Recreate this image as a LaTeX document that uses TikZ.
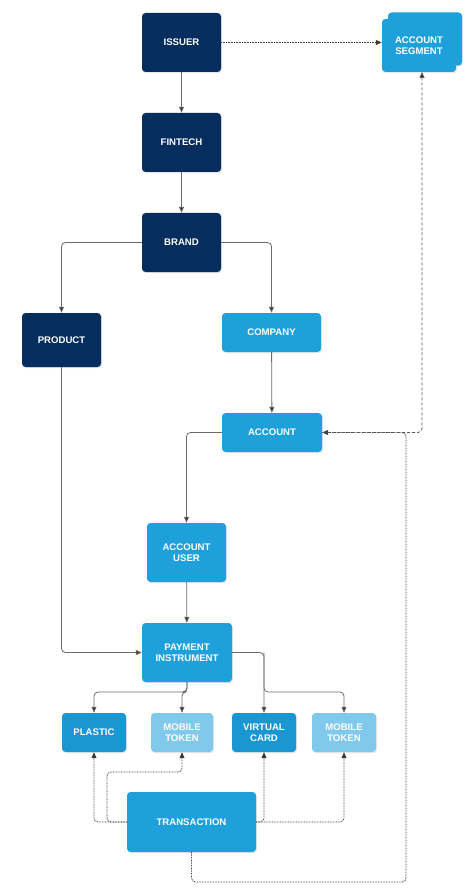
\documentclass[tikz,border=0pt]{standalone}
\usepackage{fontspec}
\setmainfont{Liberation Sans}
\usetikzlibrary{arrows.meta,shadows}
\definecolor{navy}{HTML}{052D5E}
\definecolor{cblue}{HTML}{1EA0DB}
\definecolor{dblue}{HTML}{1A96D3}
\definecolor{lblue}{HTML}{80C9EC}
\definecolor{lgray}{HTML}{6B6B6B}
\begin{document}
\begin{tikzpicture}[x=1pt,y=-1pt,
  box/.style={rounded corners=3.5pt, text=white, font=\bfseries\fontsize{9.6}{11.5}\selectfont, align=center, inner sep=0pt,
    drop shadow={opacity=0.18, shadow xshift=1pt, shadow yshift=-1.2pt}},
  navybox/.style={box, fill=navy},
  bluebox/.style={box, fill=cblue},
  dbluebox/.style={box, fill=dblue},
  lbluebox/.style={box, fill=lblue},
  conn/.style={draw=lgray, line width=0.8pt, rounded corners=4pt, -{Triangle[length=6pt,width=5pt,fill=black!80]}},
  dotconn/.style={conn, draw=black!75, dash pattern=on 0.8pt off 0.8pt},
  dashconn/.style={conn, draw=black!65, dash pattern=on 3pt off 2pt},
]
\useasboundingbox (0,0) rectangle (474,890);

% nodes
\node[navybox, minimum width=79pt, minimum height=59pt] (issuer) at (181.5,42.5) {ISSUER};
\node[navybox, minimum width=79pt, minimum height=59pt] (fintech) at (181.5,142.5) {FINTECH};
\node[navybox, minimum width=79pt, minimum height=59pt] (brand) at (181.5,242.5) {BRAND};
\node[navybox, minimum width=79pt, minimum height=54pt] (product) at (61.5,340) {PRODUCT};
\node[bluebox, minimum width=99pt, minimum height=39pt] (company) at (271.5,332.5) {COMPANY};
\node[bluebox, minimum width=100pt, minimum height=39pt] (account) at (272,432.5) {ACCOUNT};
\node[bluebox, minimum width=79pt, minimum height=59pt] (accuser) at (186.5,552.5) {ACCOUNT\\USER};
\node[bluebox, minimum width=90pt, minimum height=59pt] (payinst) at (187,652.5) {PAYMENT\\INSTRUMENT};
\node[dbluebox, minimum width=64pt, minimum height=39pt] (plastic) at (94,732.5) {PLASTIC};
\node[lbluebox, minimum width=62pt, minimum height=39pt] (mtok1) at (182,732.5) {MOBILE\\TOKEN};
\node[dbluebox, minimum width=64pt, minimum height=39pt] (vcard) at (264,732.5) {VIRTUAL\\CARD};
\node[lbluebox, minimum width=64pt, minimum height=39pt] (mtok2) at (344,732.5) {MOBILE\\TOKEN};
\node[bluebox, minimum width=129pt, minimum height=60pt] (trans) at (191.5,822) {TRANSACTION};
\node[bluebox, minimum width=74pt, minimum height=53pt] (segback) at (425,39) {};
\node[bluebox, minimum width=74pt, minimum height=53pt] (segment) at (419,45.5) {ACCOUNT\\SEGMENT};

% solid connectors
\draw[conn] (issuer) -- (fintech);
\draw[conn] (fintech) -- (brand);
\draw[conn] (brand.west) -| (product.north);
\draw[conn] (brand.east) -| (company.north);
\draw[conn] (company) -- (account);
\draw[conn] (account.west) -| (accuser.north);
\draw[conn] (accuser) -- (payinst);
\draw[conn] (product.south) |- (payinst.west);
\coordinate (pib) at (187,692);
\draw[conn] (payinst.south) -- (pib) -| (plastic.north);
\draw[conn] (payinst.south) -- (pib) -| (mtok1.north);
\coordinate (pie) at (264,652.5);
\coordinate (vcb) at (264,692);
\draw[conn] (payinst.east) -- (pie) -- (vcard.north);
\draw[conn] (pie) -- (vcb) -| (mtok2.north);

% dotted connectors
\draw[dotconn] (issuer.east) -- (segment.west |- issuer.east);
\draw[dotconn] (trans.west) -| (plastic.south);
\coordinate (tw1) at (107,822);
\coordinate (tw2) at (107,772);
\draw[dotconn] (trans.west) -- (tw1) -- (tw2) -| (mtok1.south);
\draw[dotconn] (trans.east) -| (vcard.south);
\draw[dotconn] (trans.east) -| (mtok2.south);
\coordinate (tb1) at (191.5,882);
\coordinate (tb2) at (406,882);
\coordinate (tb3) at (406,432.5);
\draw[dotconn] (trans.south) -- (tb1) -- (tb2) -- (tb3) -- (account.east);

% dashed connector
\coordinate (ae) at (422,432.5);
\coordinate (segs) at (422,72);
\draw[dashconn] (account.east) -- (ae) -- (segs);
\end{tikzpicture}
\end{document}
